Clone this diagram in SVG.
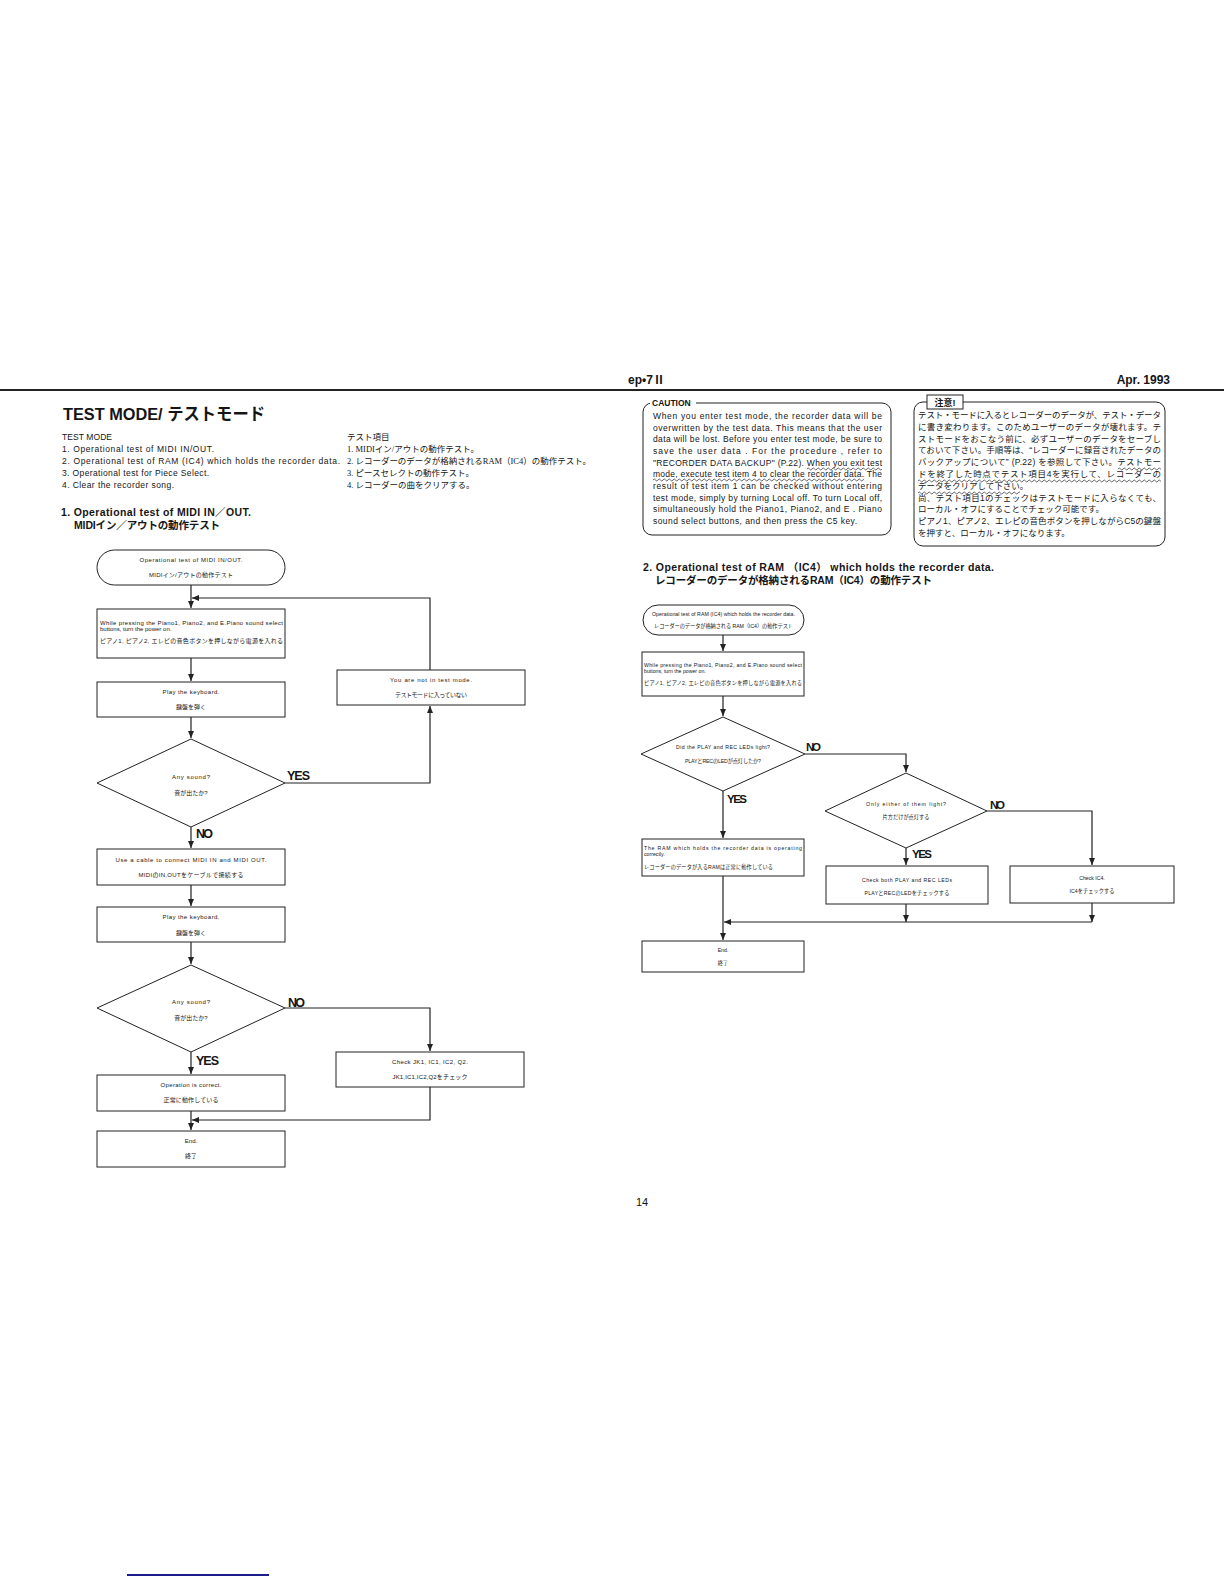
<svg xmlns="http://www.w3.org/2000/svg" width="1224" height="1584" viewBox="0 0 1224 1584">
<style>
.t{font-family:'Liberation Sans','Noto Sans CJK JP',sans-serif;fill:#151515}
.j{font-family:'Liberation Serif','Noto Sans CJK JP',serif;fill:#151515}
.b{font-weight:bold}
.node{fill:#fff;stroke:#222;stroke-width:1}
.conn{fill:none;stroke:#222;stroke-width:1.2}
.fc{font-size:6px}
.fcs{font-size:5.2px}
.lbl{font-size:12.5px;font-weight:bold}
.lbs{font-size:11.5px;font-weight:bold}
.body{font-size:8.5px}
.m{text-anchor:middle}
</style>
<defs>
<marker id="ah" markerUnits="userSpaceOnUse" markerWidth="7" markerHeight="6" refX="7" refY="3" orient="auto">
<path d="M0,0 L7,3 L0,6 Z" fill="#222"/>
</marker>
<pattern id="wave" width="5" height="4" patternUnits="userSpaceOnUse">
<path d="M0,2 Q1.25,0 2.5,2 T5,2" fill="none" stroke="#222" stroke-width="0.7"/>
</pattern>
</defs>
<rect width="1224" height="1584" fill="#fff"/>

<g id="header">
<line x1="0" y1="390" x2="1224" y2="390" stroke="#222" stroke-width="2"/>
<text class="t b" x="628" y="384" font-size="12">ep•7Ⅱ</text>
<text class="t b" x="1170" y="384" font-size="12" text-anchor="end">Apr. 1993</text>
</g>

<g id="intro">
<text class="t b" x="63" y="420" font-size="17" textLength="202" lengthAdjust="spacingAndGlyphs">TEST MODE/ テストモード</text>
<text class="t body" x="62" y="440" textLength="50">TEST MODE</text>
<text class="t body" x="62" y="452" textLength="152">1. Operational test of MIDI IN/OUT.</text>
<text class="t body" x="62" y="464" textLength="278">2. Operational test of RAM (IC4) which holds the recorder data.</text>
<text class="t body" x="62" y="476" textLength="147">3. Operational test for Piece Select.</text>
<text class="t body" x="62" y="488" textLength="112">4. Clear the recorder song.</text>
<text class="j body" x="347" y="440">テスト項目</text>
<text class="j body" x="347" y="452">1. MIDIイン/アウトの動作テスト。</text>
<text class="j body" x="347" y="464" textLength="244">2. レコーダーのデータが格納されるRAM（IC4）の動作テスト。</text>
<text class="j body" x="347" y="476">3. ピースセレクトの動作テスト。</text>
<text class="j body" x="347" y="488">4. レコーダーの曲をクリアする。</text>
<text class="t b" x="61" y="516" font-size="10.5" textLength="190">1. Operational test of MIDI IN／OUT.</text>
<text class="t b" x="74" y="529" font-size="10.5" textLength="146">MIDIイン／アウトの動作テスト</text>
</g>

<g id="caution">
<rect x="643" y="403" width="248" height="132" rx="9" fill="none" stroke="#222" stroke-width="1"/>
<rect x="650" y="398" width="46" height="10" fill="#fff"/>
<text class="t b" x="652" y="406" font-size="8.5">CAUTION</text>
<text class="t body" x="653" y="419" textLength="229">When you enter test mode, the recorder data will be</text>
<text class="t body" x="653" y="431" textLength="229">overwritten by the test data. This means that the user</text>
<text class="t body" x="653" y="442" textLength="229">data will be lost. Before you enter test mode, be sure to</text>
<text class="t body" x="653" y="454" textLength="229">save the user data . For the procedure , refer to</text>
<text class="t body" x="653" y="466" textLength="229">"RECORDER DATA BACKUP" (P.22). When you exit test</text>
<text class="t body" x="653" y="477" textLength="229">mode, execute test item 4 to clear the recorder data. The</text>
<text class="t body" x="653" y="489" textLength="229">result of test item 1 can be checked without entering</text>
<text class="t body" x="653" y="501" textLength="229">test mode, simply by turning Local off. To turn Local off,</text>
<text class="t body" x="653" y="512" textLength="229">simultaneously hold the Piano1, Piano2, and E . Piano</text>
<text class="t body" x="653" y="524" textLength="204">sound select buttons, and then press the C5 key.</text>
<rect transform="translate(807,467)" width="75" height="4" fill="url(#wave)"/>
<rect transform="translate(653,478)" width="211" height="4" fill="url(#wave)"/>
</g>

<g id="chuui">
<rect x="914" y="402" width="251" height="144" rx="9" fill="none" stroke="#222" stroke-width="1"/>
<rect x="927" y="395" width="36" height="14" fill="#fff" stroke="#222" stroke-width="1"/>
<text class="t b m" x="945" y="406" font-size="9">注意!</text>
<text class="t body" x="918" y="418" textLength="243">テスト・モードに入るとレコーダーのデータが、テスト・データ</text>
<text class="t body" x="918" y="430" textLength="243">に書き変わります。このためユーザーのデータが壊れます。テ</text>
<text class="t body" x="918" y="442" textLength="243">ストモードをおこなう前に、必ずユーザーのデータをセーブし</text>
<text class="t body" x="918" y="453" textLength="243">ておいて下さい。手順等は、“レコーダーに録音されたデータの</text>
<text class="t body" x="918" y="465" textLength="243">バックアップについて” (P.22) を参照して下さい。テストモー</text>
<text class="t body" x="918" y="477" textLength="243">ドを終了した時点でテスト項目4を実行して、レコーダーの</text>
<text class="t body" x="918" y="489">データをクリアして下さい。</text>
<text class="t body" x="918" y="501" textLength="243">尚、テスト項目1のチェックはテストモードに入らなくても、</text>
<text class="t body" x="918" y="512">ローカル・オフにすることでチェック可能です。</text>
<text class="t body" x="918" y="524" textLength="243">ピアノ1、ピアノ2、エレピの音色ボタンを押しながらC5の鍵盤</text>
<text class="t body" x="918" y="536">を押すと、ローカル・オフになります。</text>
<rect transform="translate(1118,467)" width="43" height="4" fill="url(#wave)"/>
<rect transform="translate(918,479)" width="243" height="4" fill="url(#wave)"/>
<rect transform="translate(918,491)" width="102" height="4" fill="url(#wave)"/>
</g>

<g id="section2-heading">
<text class="t b" x="643" y="571" font-size="10.5" textLength="351">2. Operational test of RAM （IC4） which holds the recorder data.</text>
<text class="t b" x="655" y="584" font-size="10.5" textLength="277">レコーダーのデータが格納されるRAM（IC4）の動作テスト</text>
</g>

<g id="connectors">
<polyline class="conn" points="191,585 191,608" marker-end="url(#ah)"/>
<polyline class="conn" points="430,670 430,598 192,598" marker-end="url(#ah)"/>
<polyline class="conn" points="191,658 191,681" marker-end="url(#ah)"/>
<polyline class="conn" points="191,717 191,738" marker-end="url(#ah)"/>
<polyline class="conn" points="285,783 430,783 430,706" marker-end="url(#ah)"/>
<polyline class="conn" points="191,827 191,848" marker-end="url(#ah)"/>
<polyline class="conn" points="191,885 191,906" marker-end="url(#ah)"/>
<polyline class="conn" points="191,942 191,964" marker-end="url(#ah)"/>
<polyline class="conn" points="285,1008 430,1008 430,1051" marker-end="url(#ah)"/>
<polyline class="conn" points="191,1052 191,1074" marker-end="url(#ah)"/>
<polyline class="conn" points="191,1111 191,1130" marker-end="url(#ah)"/>
<polyline class="conn" points="430,1087 430,1120 192,1120" marker-end="url(#ah)"/>

<polyline class="conn" points="723,635 723,651" marker-end="url(#ah)"/>
<polyline class="conn" points="723,696 723,716" marker-end="url(#ah)"/>
<polyline class="conn" points="805,754 906,754 906,772" marker-end="url(#ah)"/>
<polyline class="conn" points="723,791 723,838" marker-end="url(#ah)"/>
<polyline class="conn" points="987,811 1092,811 1092,865" marker-end="url(#ah)"/>
<polyline class="conn" points="906,848 906,865" marker-end="url(#ah)"/>
<polyline class="conn" points="906,904 906,922" marker-end="url(#ah)"/>
<polyline class="conn" points="1092,903 1092,922" marker-end="url(#ah)"/>
<polyline class="conn" points="1092,922 724,922" marker-end="url(#ah)"/>
<polyline class="conn" points="723,876 723,940" marker-end="url(#ah)"/>

<text class="t lbl" x="287" y="780" textLength="23">YES</text>
<text class="t lbl" x="196" y="838" textLength="17">NO</text>
<text class="t lbl" x="288" y="1007" textLength="17">NO</text>
<text class="t lbl" x="196" y="1065" textLength="23">YES</text>
<text class="t lbs" x="806" y="751" textLength="15">NO</text>
<text class="t lbs" x="727" y="803" textLength="20">YES</text>
<text class="t lbs" x="990" y="809" textLength="15">NO</text>
<text class="t lbs" x="912" y="858" textLength="20">YES</text>
</g>

<g id="L_start">
<rect class="node" x="97" y="550" width="188" height="35" rx="17.5"/>
<text class="t fc m" x="191" y="562" textLength="103">Operational test of MIDI IN/OUT.</text>
<text class="t fc m" x="191" y="577" textLength="84">MIDIイン/アウトの動作テスト</text>
</g>
<g id="L_power">
<rect class="node" x="97" y="609" width="188" height="49"/>
<text class="t fc" x="100" y="625" textLength="183">While pressing the Piano1, Piano2, and E.Piano sound select</text>
<text class="t fc" x="100" y="631">buttons, turn the power on.</text>
<text class="t fc" x="100" y="643" textLength="183">ピアノ1, ピアノ2, エレピの音色ボタンを押しながら電源を入れる</text>
</g>
<g id="L_play1">
<rect class="node" x="97" y="682" width="188" height="35"/>
<text class="t fc m" x="191" y="694" textLength="57">Play the keyboard.</text>
<text class="t fc m" x="191" y="709">鍵盤を弾く</text>
</g>
<g id="L_notin">
<rect class="node" x="337" y="670" width="188" height="35"/>
<text class="t fc m" x="431" y="682" textLength="82">You are not in test mode.</text>
<text class="t fc m" x="431" y="697" textLength="72">テストモードに入っていない</text>
</g>
<g id="L_dia1">
<polygon class="node" points="191,739 285,783 191,827 97,783"/>
<text class="t fc m" x="191" y="779" textLength="38">Any sound?</text>
<text class="t fc m" x="191" y="795">音が出たか?</text>
</g>
<g id="L_cable">
<rect class="node" x="97" y="849" width="188" height="36"/>
<text class="t fc m" x="191" y="862" textLength="151">Use a cable to connect MIDI IN and MIDI OUT.</text>
<text class="t fc m" x="191" y="877" textLength="105">MIDIのIN,OUTをケーブルで接続する</text>
</g>
<g id="L_play2">
<rect class="node" x="97" y="907" width="188" height="35"/>
<text class="t fc m" x="191" y="919" textLength="57">Play the keyboard.</text>
<text class="t fc m" x="191" y="935">鍵盤を弾く</text>
</g>
<g id="L_dia2">
<polygon class="node" points="191,965 285,1008 191,1052 97,1008"/>
<text class="t fc m" x="191" y="1004" textLength="38">Any sound?</text>
<text class="t fc m" x="191" y="1020">音が出たか?</text>
</g>
<g id="L_check">
<rect class="node" x="336" y="1052" width="188" height="35"/>
<text class="t fc m" x="430" y="1064" textLength="76">Check JK1, IC1, IC2, Q2.</text>
<text class="t fc m" x="430" y="1079" textLength="75">JK1,IC1,IC2,Q2をチェック</text>
</g>
<g id="L_ok">
<rect class="node" x="97" y="1075" width="188" height="36"/>
<text class="t fc m" x="191" y="1087" textLength="61">Operation is correct.</text>
<text class="t fc m" x="191" y="1102" textLength="55">正常に動作している</text>
</g>
<g id="L_end">
<rect class="node" x="97" y="1131" width="188" height="36"/>
<text class="t fc m" x="191" y="1143">End.</text>
<text class="t fc m" x="191" y="1158">終了</text>
</g>

<g id="R_start">
<rect class="node" x="643" y="605" width="161" height="30" rx="15"/>
<text class="t fcs m" x="723.5" y="616" textLength="143">Operational test of RAM (IC4) which holds the recorder data.</text>
<text class="t fcs m" x="723.5" y="628" textLength="139">レコーダーのデータが格納される RAM（IC4）の動作テスト</text>
</g>
<g id="R_power">
<rect class="node" x="642" y="652" width="162" height="44"/>
<text class="t fcs" x="644" y="667" textLength="158">While pressing the Piano1, Piano2, and E.Piano sound select</text>
<text class="t fcs" x="644" y="673">buttons, turn the power on.</text>
<text class="t fcs" x="644" y="685" textLength="158">ピアノ1, ピアノ2, エレピの音色ボタンを押しながら電源を入れる</text>
</g>
<g id="R_dia1">
<polygon class="node" points="723,717 805,754 723,791 641,754"/>
<text class="t fcs m" x="723" y="749" textLength="94">Did the PLAY and REC LEDs light?</text>
<text class="t fcs m" x="723" y="763" textLength="76">PLAYとRECのLEDが点灯したか?</text>
</g>
<g id="R_dia2">
<polygon class="node" points="906,773 987,811 906,848 825,811"/>
<text class="t fcs m" x="906" y="806" textLength="80">Only either of them light?</text>
<text class="t fcs m" x="906" y="819" textLength="47">片方だけが点灯する</text>
</g>
<g id="R_ramok">
<rect class="node" x="642" y="839" width="162" height="37"/>
<text class="t fcs" x="644" y="850" textLength="158">The RAM which holds the recorder data is operating</text>
<text class="t fcs" x="644" y="856">correctly.</text>
<text class="t fcs" x="644" y="869" textLength="129">レコーダーのデータが入るRAMは正常に動作している</text>
</g>
<g id="R_both">
<rect class="node" x="826" y="866" width="162" height="38"/>
<text class="t fcs m" x="907" y="882" textLength="90">Check both PLAY and REC LEDs</text>
<text class="t fcs m" x="907" y="895" textLength="85">PLAYとRECのLEDをチェックする</text>
</g>
<g id="R_ic4">
<rect class="node" x="1010" y="866" width="164" height="37"/>
<text class="t fcs m" x="1092" y="880">Check IC4.</text>
<text class="t fcs m" x="1092" y="893" textLength="45">IC4をチェックする</text>
</g>
<g id="R_end">
<rect class="node" x="642" y="941" width="162" height="31"/>
<text class="t fcs m" x="723" y="952">End.</text>
<text class="t fcs m" x="723" y="965">終了</text>
</g>

<g id="footer">
<text class="t m" x="642" y="1206" font-size="11">14</text>
<line x1="127" y1="1575" x2="269" y2="1575" stroke="#1c1c8c" stroke-width="2"/>
</g>
</svg>
